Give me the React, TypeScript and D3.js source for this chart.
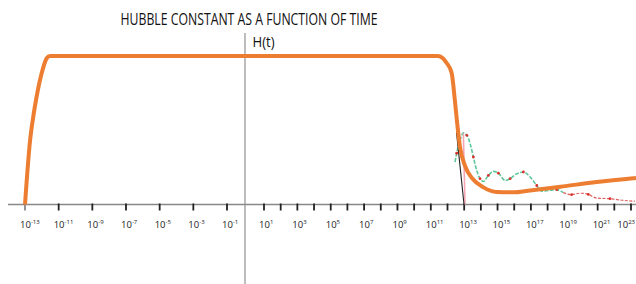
import React from "react";
import * as d3 from "d3";

const W = 636;
const H = 284;

const title = "HUBBLE CONSTANT AS A FUNCTION OF TIME";
const yLabel = "H(t)";

// tick exponents (log10 of time)
const tickExps = [-13, -11, -9, -7, -5, -3, -1, 1, 2, 3, 4, 5, 6, 7, 8, 9, 10, 11, 12, 13, 14, 15, 16, 17, 18, 19, 20, 21, 22, 23];
const labelExps = [-13, -11, -9, -7, -5, -3, -1, 1, 3, 5, 7, 9, 11, 13, 15, 17, 19, 21, 23];

// main curve: [log10 t, H]
const hubbleExp = [-13, -12.7, -12.51, -12.31, -12.01, -11.71, -11.52, -11, 0, 11.43, 11.95, 12.25, 12.44, 12.58, 12.75, 13.05, 13.53, 14.13, 14.95, 15.93, 16.95, 18.92, 20.94, 23.3];
const hubbleVal = [0.0, 0.43, 0.59, 0.726, 0.884, 0.985, 1.0, 1.0, 1.0, 1.0, 0.953, 0.885, 0.703, 0.547, 0.387, 0.26, 0.17, 0.117, 0.084, 0.082, 0.095, 0.122, 0.151, 0.178];

// oscillating curve
const oscExp = [12.45, 12.55, 12.75, 12.95, 13.16, 13.35, 13.55, 13.75, 13.95, 14.15, 14.45, 14.75, 15.05, 15.45, 15.75, 16.15, 16.55, 16.95, 17.35, 17.65, 18.1, 18.55, 18.94, 19.44, 19.94, 20.44, 20.94, 21.74, 22.54, 23.24];
const oscVal = [0.286, 0.345, 0.432, 0.482, 0.466, 0.412, 0.32, 0.23, 0.174, 0.155, 0.196, 0.223, 0.211, 0.162, 0.174, 0.207, 0.219, 0.185, 0.128, 0.09, 0.095, 0.1, 0.08, 0.066, 0.076, 0.068, 0.043, 0.039, 0.028, 0.022];
const dotIdx = [1, 4, 6, 8, 10, 12, 14, 16, 18, 21, 23, 25, 27];

const blackExp = [12.54, 12.99];
const blackVal = [0.486, 0];
const pinkExp = [12.95, 13.05];
const pinkVal = [0.48, 0];

export default function App() {
  const x = d3
    .scaleLog()
    .domain([1e-13, 1e-1, 1e1, 1e23])
    .range([25, 227, 264, 631]);
  const y = d3.scaleLinear().domain([0, 1]).range([204.5, 56]);
  const X = (e: number) => x(Math.pow(10, e));

  const line = d3
    .line<[number, number]>()
    .x((d) => X(d[0]))
    .y((d) => y(d[1]))
    .curve(d3.curveMonotoneX);
  const straight = d3
    .line<[number, number]>()
    .x((d) => X(d[0]))
    .y((d) => y(d[1]));

  const hub: [number, number][] = hubbleExp.map((e, i) => [e, hubbleVal[i]]);
  const osc: [number, number][] = oscExp.map((e, i) => [e, oscVal[i]]);
  const splitAt = 22;
  const oscA = osc.slice(0, splitAt + 1);
  const oscB = osc.slice(splitAt);
  const blk: [number, number][] = blackExp.map((e, i) => [e, blackVal[i]]);
  const pnk: [number, number][] = pinkExp.map((e, i) => [e, pinkVal[i]]);

  const font = "'Open Sans', 'Liberation Sans', sans-serif";
  const axisY = y(0);

  return (
    <svg
      width={W}
      height={H}
      style={{ position: "absolute", left: 0, top: 0, background: "#fff" }}
    >
      <rect width={W} height={H} fill="#fff" />
      <text
        x={120.5}
        y={25}
        fontFamily={font}
        fontSize={16}
        fill="#111"
        textLength={257}
        lengthAdjust="spacingAndGlyphs"
      >
        {title}
      </text>
      {/* vertical axis */}
      <line x1={245} x2={245} y1={33} y2={284} stroke="#999" strokeWidth={1.3} />
      <text x={252.5} y={47} fontFamily={font} fontSize={14.5} fill="#111" textLength={22} lengthAdjust="spacingAndGlyphs">
        {yLabel}
      </text>
      {/* horizontal axis */}
      <line x1={8} x2={636} y1={axisY} y2={axisY} stroke="#888" strokeWidth={1.4} />
      {tickExps.map((e) => (
        <line
          key={"t" + e}
          x1={X(e)}
          x2={X(e)}
          y1={axisY - 1}
          y2={axisY + 6}
          stroke={e === -13 ? "#888" : "#222"}
          strokeWidth={1.8}
        />
      ))}
      {labelExps.map((e) => {
        const last = e === 23;
        return (
          <text
            key={"l" + e}
            x={last ? 635 : X(e) - 5}
            y={227.5}
            textAnchor={last ? "end" : "start"}
            fontFamily={font}
            fontSize={9.5}
            fill="#222"
          >
            10
            <tspan fontSize={6} dy={-4}>
              {e < 0 ? "-" + Math.abs(e) : String(e)}
            </tspan>
          </text>
        );
      })}
      {/* oscillating curve */}
      <path d={line(oscA) || ""} fill="none" stroke="#5fc79c" strokeWidth={1.6} strokeDasharray="4 1.5" />
      <path d={line(oscB) || ""} fill="none" stroke="#e06060" strokeWidth={1.2} strokeDasharray="3 1.5" />
      {dotIdx.map((i) => (
        <circle key={"d" + i} cx={X(osc[i][0])} cy={y(osc[i][1])} r={1.4} fill="#d8322c" />
      ))}
      <path d={straight(pnk) || ""} fill="none" stroke="#f4a6b4" strokeWidth={1.6} />
      <path d={straight(blk) || ""} fill="none" stroke="#222" strokeWidth={1.1} />
      {/* main curve */}
      <path d={line(hub) || ""} fill="none" stroke="#ED7D31" strokeWidth={4} strokeLinejoin="round" />
    </svg>
  );
}
